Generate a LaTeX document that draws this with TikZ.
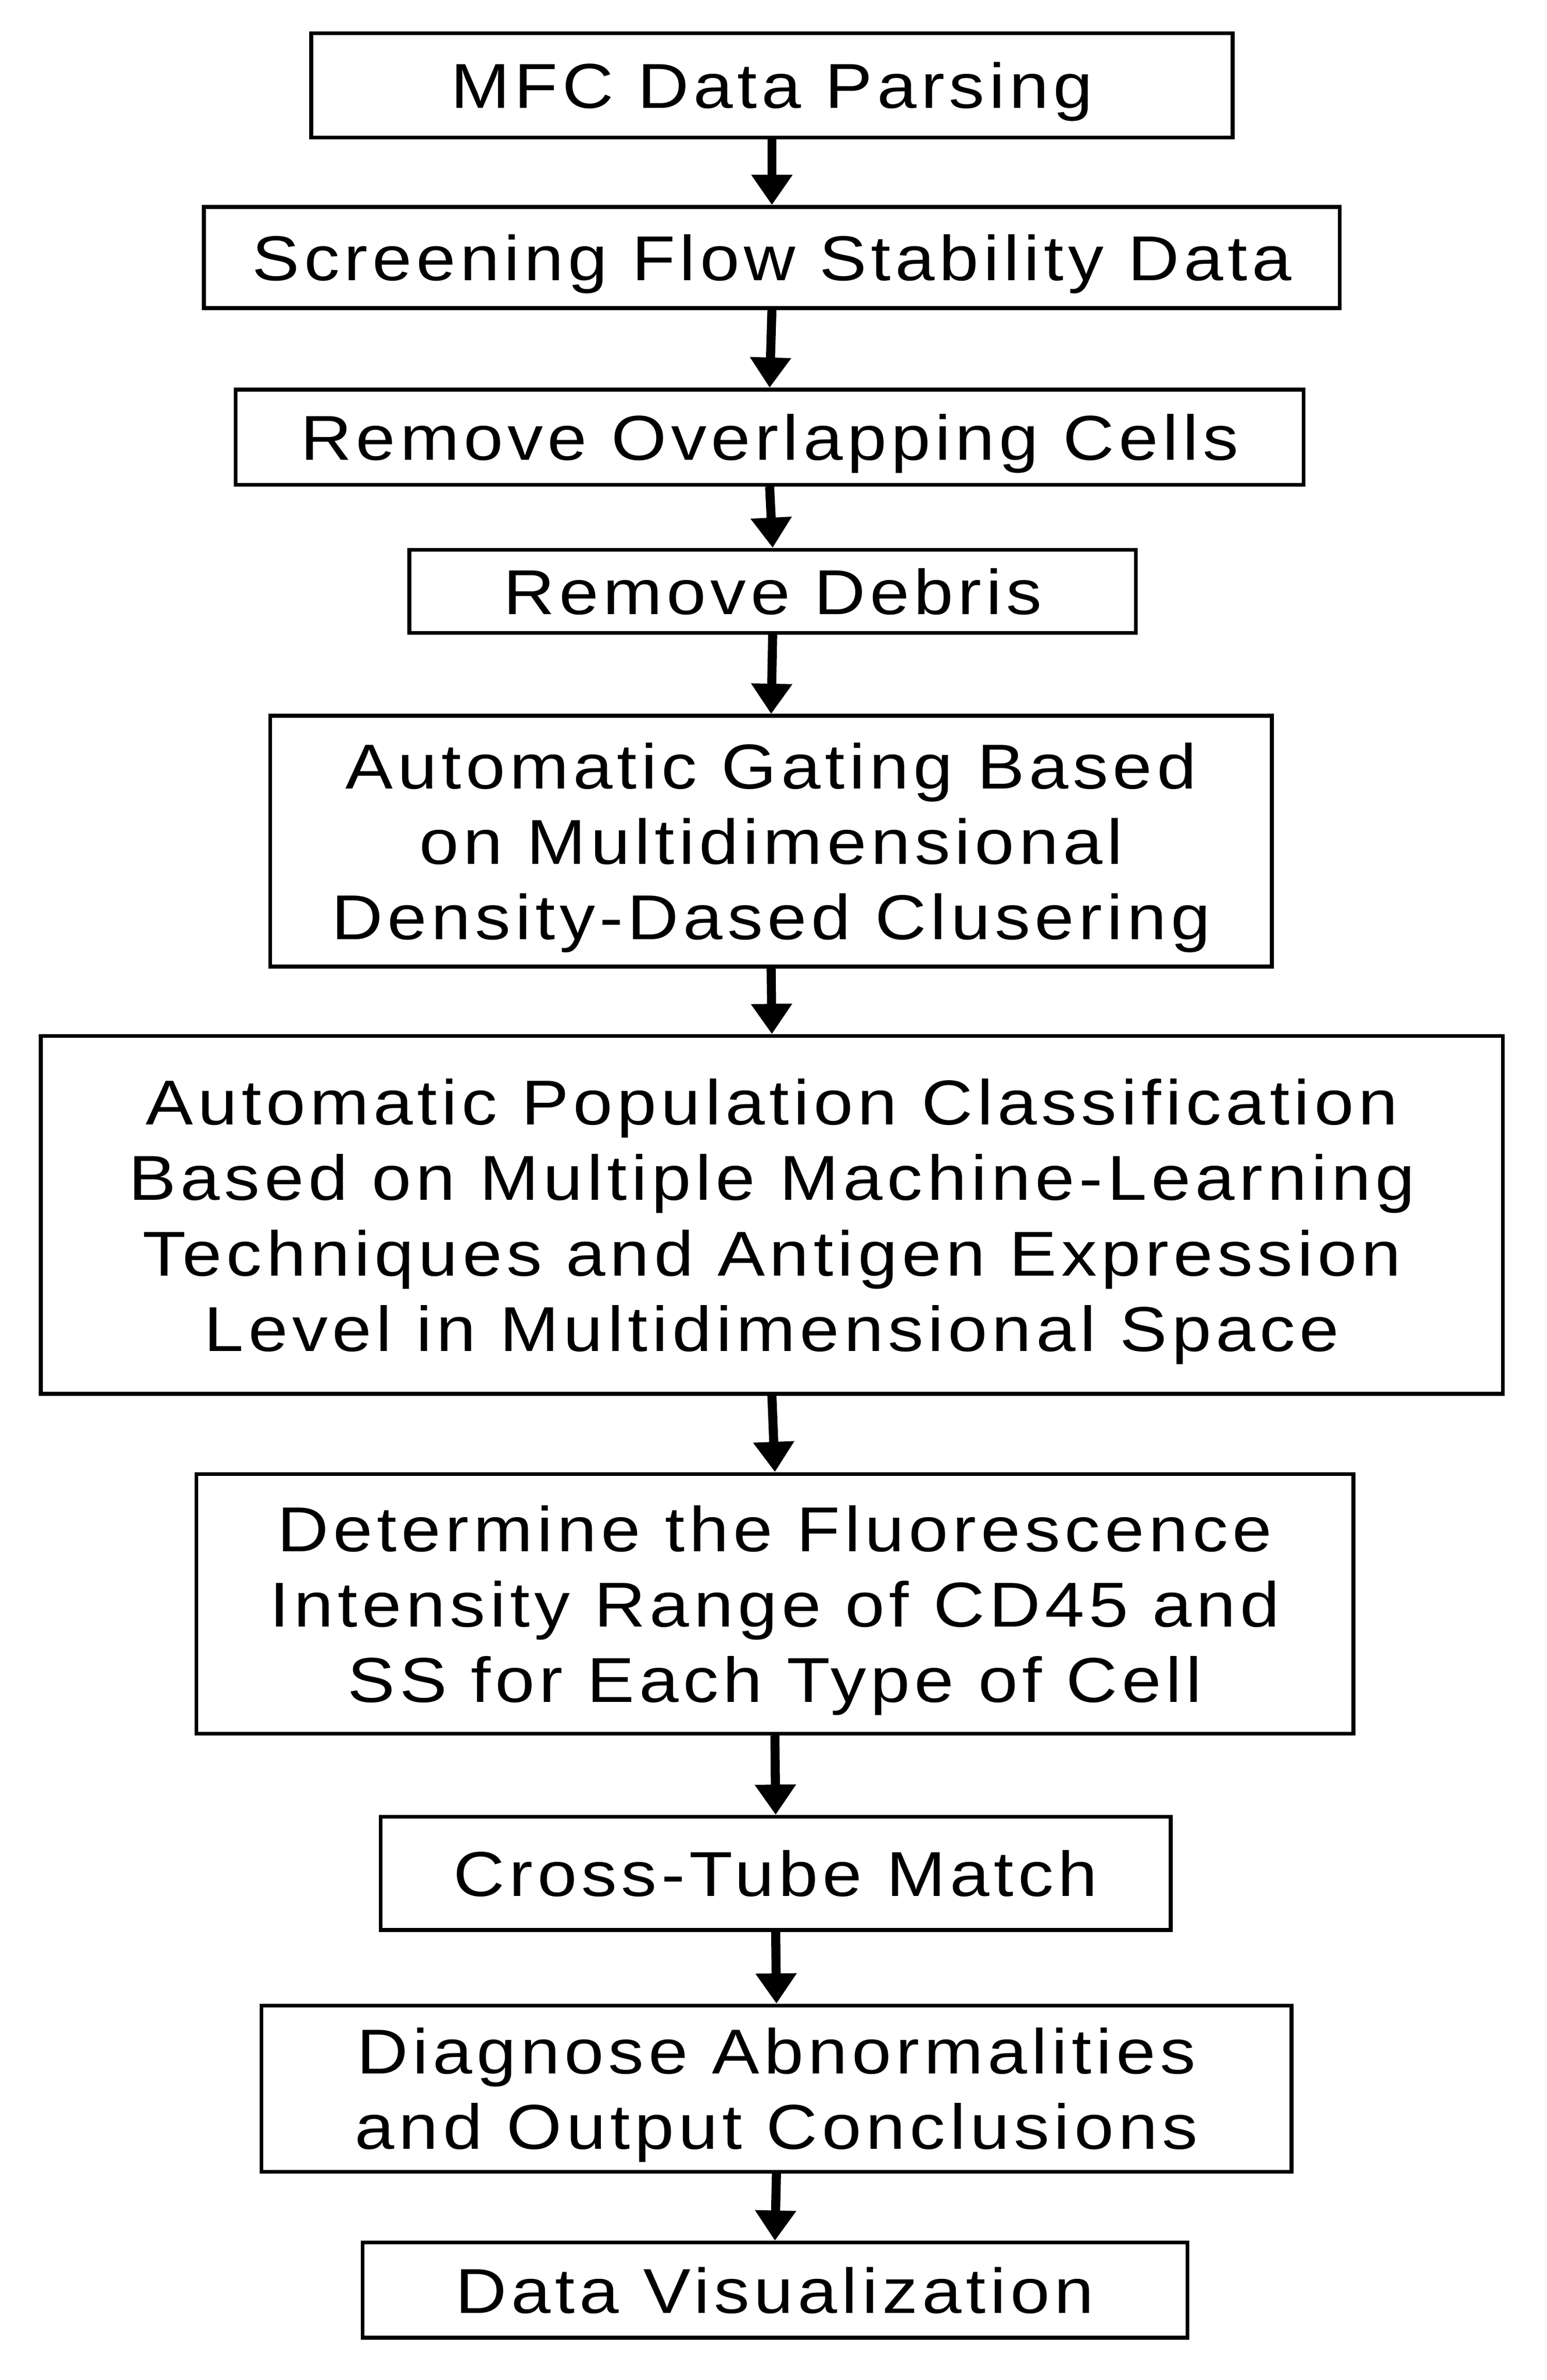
\documentclass[tikz,border=0pt]{standalone}
\usepackage{fontspec}
\setmainfont{Liberation Sans}[FakeStretch=1.12,LetterSpace=7]
\usetikzlibrary{arrows.meta}
\begin{document}
\begin{tikzpicture}[x=1pt,y=-1pt,
  box/.style={draw,line width=2.5pt,inner sep=0pt,align=center,font=\fontsize{42}{50}\selectfont},
  arr/.style={line width=6pt,-{Triangle[length=20pt,width=26pt]}}]
\useasboundingbox (0,0) rectangle (1024,1576);
\fill[white] (0,0) rectangle (1024,1576);
\newcommand{\bx}[6]{\node[box,minimum width=#3-#2,minimum height=#5-#4,text depth=0pt] (#1) at ({(#2+#3)/2},{(#4+#5)/2}) {#6};}
\bx{a}{206}{816}{22}{91}{MFC Data Parsing}
\bx{b}{135}{887}{137}{204}{Screening Flow Stability Data}
\bx{c}{156}{863}{258}{321}{Remove Overlapping Cells}
\bx{d}{271}{752}{364}{419}{Remove Debris}
\bx{e}{179}{842}{474}{640}{Automatic Gating Based\\on Multidimensional\\Density-Dased Clusering}
\bx{f}{27}{995}{686}{923}{Automatic Population Classification\\Based on Multiple Machine-Learning\\Techniques and Antigen Expression\\Level in Multidimensional Space}
\bx{g}{130}{896}{976}{1148}{Determine the Fluorescence\\Intensity Range of CD45 and\\SS for Each Type of Cell}
\bx{h}{252}{775}{1203}{1278}{Cross-Tube Match}
\bx{i}{173}{855}{1328}{1438}{Diagnose Abnormalities\\and Output Conclusions}
\bx{j}{240}{786}{1485}{1548}{Data Visualization}
\foreach \p/\q in {a/b,b/c,c/d,d/e,e/f,f/g,g/h,h/i,i/j}
  \draw[arr] (\p.south) -- (\q.north);
\end{tikzpicture}
\end{document}
